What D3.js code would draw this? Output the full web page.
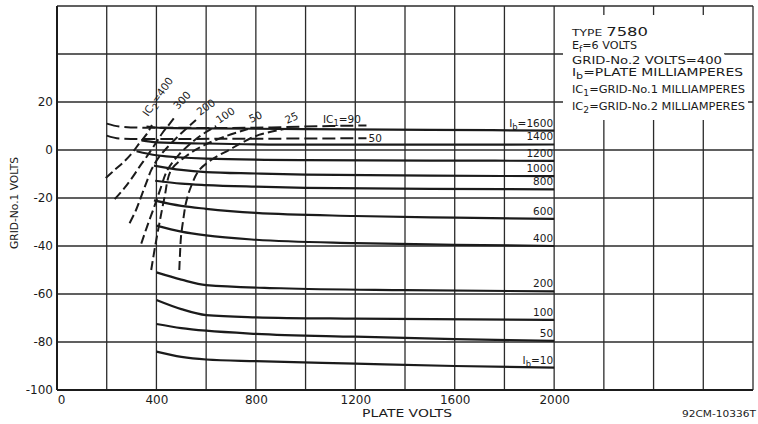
<!DOCTYPE html>
<html>
<head>
<meta charset="utf-8">
<script src="https://cdn.jsdelivr.net/npm/d3@7"></script>
<style>
body { margin: 0; background: #fff; }
svg { display: block; font-family: "DejaVu Sans", sans-serif; }
</style>
</head>
<body>
<div id="chart"></div>
<script>
// tick labels
const plateTicks = [0, 400, 800, 1200, 1600, 2000];
const gridTicks = [-100, -80, -60, -40, -20, 0, 20];

// plate current curves: [plate volts, grid-no.1 volts]
const ibLabels = ["I_b=1600", "1400", "1200", "1000", "800", "600", "400", "200", "100", "50", "I_b=10"];
const ib1600 = [[360, 9.8], [420, 9.2], [600, 9.0], [1000, 8.7], [1500, 8.4], [2000, 8.1]];
const ib1400 = [[340, 4], [400, 3.2], [600, 2.7], [1000, 2.2], [1500, 2.2], [2000, 2.3]];
const ib1200 = [[320, -0.5], [400, -2.2], [600, -3.6], [1000, -4.2], [1500, -4.4], [2000, -4.5]];
const ib1000 = [[390, -6.5], [500, -8.3], [600, -9.2], [800, -9.8], [1000, -10.3], [1500, -10.7], [2000, -10.9]];
const ib800 = [[395, -12.8], [500, -14], [600, -14.6], [800, -15.3], [1000, -15.8], [1500, -16.2], [2000, -16.4]];
const ib600 = [[390, -21], [500, -23.3], [600, -24.5], [800, -26.2], [1200, -27.5], [1600, -28.2], [2000, -28.7]];
const ib400 = [[400, -31.5], [500, -34], [600, -35.6], [800, -37.4], [1200, -38.8], [1600, -39.5], [2000, -40]];
const ib200 = [[400, -51], [500, -54], [600, -56.3], [900, -57.6], [1400, -58.4], [2000, -58.9]];
const ib100 = [[400, -62.5], [500, -66.3], [600, -68.8], [800, -69.7], [1200, -70.3], [2000, -70.8]];
const ib50 = [[400, -72.5], [500, -74.2], [600, -75.3], [800, -76.6], [1200, -77.8], [1600, -78.8], [2000, -79.5]];
const ib10 = [[400, -84], [500, -86.2], [600, -87.3], [800, -88], [1200, -89], [1600, -90], [2000, -90.7]];

// grid-no.2 current curves (dashed)
const ic2Labels = ["IC_2=400", "300", "200", "100", "50", "25"];
const ic2_400 = [[196, -11.7], [230, -8.5], [264, -5.4], [300, -1.5], [332, 2.9], [360, 6.5], [382, 10.4]];
const ic2_300 = [[232, -20.5], [270, -16], [304, -11.3], [335, -6.5], [360, -2.9], [395, 2.5], [424, 7.1], [450, 10.5], [471, 13.3]];
const ic2_200 = [[292, -30.5], [318, -25], [340, -19], [360, -13.5], [379, -8.4], [410, -3], [452, 2], [500, 7], [559, 12.5]];
const ic2_100 = [[339, -39], [362, -32], [390, -24], [415, -16.5], [444, -8.4], [490, -2], [552, 4], [600, 7.5], [640, 10]];
const ic2_50 = [[379, -50], [395, -40], [412, -30.5], [432, -20], [459, -8.4], [520, -2.5], [592, 2], [680, 5.8], [768, 8.75]];
const ic2_25 = [[492, -50], [495, -43], [499, -36], [508, -29], [519, -22], [540, -15], [572, -8.4], [630, -3.5], [692, 0], [752, 3.5], [812, 6.3], [913, 8.75]];

// grid-no.1 current curves (dashed)
const ic1Labels = ["IC_1=90", "50"];
const ic1_90 = [[200, 11], [250, 9.8], [350, 9.3], [700, 9.2], [900, 9.5], [1100, 10], [1245, 10.2]];
const ic1_50 = [[200, 6], [250, 4.8], [350, 4.6], [800, 4.7], [1245, 4.9]];

const legendLines = ["TYPE 7580", "E_f=6 VOLTS", "GRID-No.2 VOLTS=400", "I_b=PLATE MILLIAMPERES",
  "IC_1=GRID-No.1 MILLIAMPERES", "IC_2=GRID-No.2 MILLIAMPERES"];

const ibCurves = [ib1600, ib1400, ib1200, ib1000, ib800, ib600, ib400, ib200, ib100, ib50, ib10];
const ic2Curves = [ic2_400, ic2_300, ic2_200, ic2_100, ic2_50, ic2_25];
const ic1Curves = [ic1_90, ic1_50];

const W = 758, H = 424;
const ink = "#1b1b1b";

const x = d3.scaleLinear().domain([0, 2800]).range([57, 753]);
const y = d3.scaleLinear().domain([-100, 60]).range([390, 6]);

const svg = d3.select("#chart").append("svg")
    .attr("width", W)
    .attr("height", H);

svg.append("rect").attr("width", W).attr("height", H).attr("fill", "#fff");

// text with single-char subscripts written as _x
function richText(g, str, o) {
    const t = g.append("text")
        .attr("x", o.x).attr("y", o.y)
        .attr("font-size", o.size)
        .attr("fill", ink)
        .attr("text-anchor", o.anchor || "start");
    if (o.rotate) t.attr("transform", `rotate(${o.rotate},${o.x},${o.y})`);
    const bits = str.split(/_(.)/);
    bits.forEach((b, i) => {
        if (b === "") return;
        const s = t.append("tspan").text(b);
        if (i % 2 === 1) s.attr("font-size", o.size * 0.8).attr("dy", o.size * 0.3);
        else if (i > 0) s.attr("dy", -o.size * 0.3);
    });
    if (o.len) t.attr("textLength", o.len).attr("lengthAdjust", "spacingAndGlyphs");
    return t;
}

// grid
const grid = svg.append("g").attr("stroke", "#2b2b2b").attr("stroke-width", 1.3);
grid.selectAll(".vgrid").data(d3.range(0, 2801, 200)).join("line")
    .attr("class", "vgrid")
    .attr("x1", d => x(d)).attr("x2", d => x(d))
    .attr("y1", y(60)).attr("y2", y(-100));
grid.selectAll(".hgrid").data(d3.range(-100, 61, 20)).join("line")
    .attr("class", "hgrid")
    .attr("x1", x(0)).attr("x2", x(2800))
    .attr("y1", d => y(d)).attr("y2", d => y(d));

svg.append("line").attr("x1", x(0)).attr("x2", x(0)).attr("y1", y(60)).attr("y2", y(-100))
    .attr("stroke", ink).attr("stroke-width", 2);
svg.append("line").attr("x1", x(0)).attr("x2", x(2800)).attr("y1", y(-100)).attr("y2", y(-100))
    .attr("stroke", ink).attr("stroke-width", 2);

// legend block (white patch breaks the grid)
const legend = svg.append("g");
legend.append("rect").attr("x", 563).attr("y", 15).attr("width", 161).attr("height", 105).attr("fill", "#fff");
const legendY = [35.5, 49, 63.5, 76, 93, 110];
const legendLen = [76, 65, 150, 171, 173, 173];
legendLines.forEach((s, i) => {
    let t;
    if (i === 0) {
        t = legend.append("text").attr("x", 572).attr("y", legendY[i]).attr("fill", ink)
            .attr("textLength", legendLen[i]).attr("lengthAdjust", "spacingAndGlyphs");
        t.append("tspan").attr("font-size", 9).text("TYPE ");
        t.append("tspan").attr("font-size", 12).text("7580");
    } else {
        t = richText(legend, s, {x: 572, y: legendY[i], size: 10, len: legendLen[i]});
    }
    const b = t.node().getBBox();
    legend.insert("rect", "text")
        .attr("x", b.x - 3).attr("y", b.y)
        .attr("width", b.width + 6).attr("height", b.height)
        .attr("fill", "#fff");
});

// axes
const yAxis = svg.append("g")
    .attr("transform", `translate(${x(0)},0)`)
    .call(d3.axisLeft(y).tickValues(gridTicks).tickSize(0).tickPadding(4).tickFormat(d => String(d)));
const xAxis = svg.append("g")
    .attr("transform", `translate(0,${y(-100)})`)
    .call(d3.axisBottom(x).tickValues(plateTicks).tickSize(0).tickPadding(5.5).tickFormat(d => String(d)));
[yAxis, xAxis].forEach(a => {
    a.select(".domain").remove();
    a.attr("font-family", null).attr("font-size", 12);
    a.selectAll("text").attr("fill", ink);
});
xAxis.selectAll(".tick").filter(d => d === 0).select("text").attr("dx", 4);

svg.append("text")
    .attr("transform", "translate(18,203) rotate(-90)")
    .attr("text-anchor", "middle").attr("font-size", 10).attr("fill", ink)
    .attr("textLength", 92).attr("lengthAdjust", "spacingAndGlyphs")
    .text("GRID-No.1 VOLTS");
svg.append("text")
    .attr("x", 407).attr("y", 417)
    .attr("text-anchor", "middle").attr("font-size", 10.5).attr("fill", ink)
    .attr("textLength", 90).attr("lengthAdjust", "spacingAndGlyphs")
    .text("PLATE VOLTS");
svg.append("text")
    .attr("x", 756).attr("y", 417)
    .attr("text-anchor", "end").attr("font-size", 9.5).attr("fill", ink)
    .attr("textLength", 74).attr("lengthAdjust", "spacingAndGlyphs")
    .text("92CM-10336T");

// curves
const smooth = d3.line().x(d => x(d[0])).y(d => y(d[1])).curve(d3.curveMonotoneX);
const bend = d3.line().x(d => x(d[0])).y(d => y(d[1])).curve(d3.curveCatmullRom.alpha(0.5));

svg.append("g").selectAll("path").data(ibCurves).join("path")
    .attr("d", smooth)
    .attr("fill", "none").attr("stroke", ink).attr("stroke-width", 2.2);

svg.append("g").selectAll("path").data(ic1Curves).join("path")
    .attr("d", smooth)
    .attr("fill", "none").attr("stroke", ink).attr("stroke-width", 2)
    .attr("stroke-dasharray", "13,5");

svg.append("g").selectAll("path").data(ic2Curves).join("path")
    .attr("d", bend)
    .attr("fill", "none").attr("stroke", ink).attr("stroke-width", 2)
    .attr("stroke-dasharray", "9,4");

// curve labels
const labels = svg.append("g");
ibCurves.forEach((c, i) => {
    const e = c[c.length - 1];
    richText(labels, ibLabels[i], {x: x(e[0]) - 1, y: y(e[1]) - 4, size: 10.5, anchor: "end"});
});

const ic2Off = [[-4, -8, -55], [4, -8, -48], [4, -4, -36], [3, -2, -34], [3, -6, -25], [3, -5, -25]];
ic2Curves.forEach((c, i) => {
    const e = c[c.length - 1];
    const o = ic2Off[i];
    richText(labels, ic2Labels[i], {x: x(e[0]) + o[0], y: y(e[1]) + o[1], size: 10.5, rotate: o[2]});
});

richText(labels, ic1Labels[0], {x: 323, y: y(ic1_90[ic1_90.length - 1][1]) - 3, size: 10.5});
richText(labels, ic1Labels[1], {x: x(ic1_50[ic1_50.length - 1][0]) + 2, y: y(ic1_50[ic1_50.length - 1][1]) + 4, size: 10.5});
</script>
</body>
</html>
